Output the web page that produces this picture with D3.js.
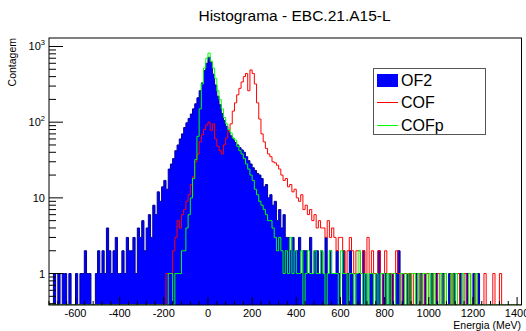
<!DOCTYPE html>
<html><head><meta charset="utf-8">
<script src="https://cdn.jsdelivr.net/npm/d3@7"></script>
<style>body{margin:0;background:#fff}svg{display:block}text{font-family:"Liberation Sans",Arial,Helvetica,sans-serif}</style>
</head><body><svg id="c" width="526" height="331"></svg>
<script>
// Histogram binning (MeV)
const binStart = -720;
const binWidth = 10;
const xDomain = [-720, 1420];
const yDomain = [0.384, 1295];
const xTickLabels = [-600,-400,-200,0,200,400,600,800,1000,1200,1400];
const yDecades = [1, 10, 100, 1000];
const seriesNames = ["OF2", "COF", "COFp"];

const of2 = [0,0,
 1,0,1,0,1,1,0,1,0,0,
 1,0,1,1,2,1,1,0,0,1,
 2,1,2,1,4,2,1,2,3,1,
 1,2,1,3,2,2,3,1,4,3,5,2,
 4,6,3,8,6,12,9,14,17,13,24,28,
 33,42,50,60,70,85,98,112,128,150,175,210,260,330,480,600,
 720,
 620,430,310,220,170,130,105,88,75,
 66,60,54,50,46,43,40,35,31,28,25,23,21,20,18,14,15,10,11,8,9,5,7,4,6,3,3,2,3,2,2,3,1,2,2,1,3,1,2,
 2,1,2,1,3,1,2,1,1,2,
 1,0,2,1,1,2,1,0,1,1,
 0,2,1,0,1,1,0,1,2,0,
 1,1,0,1,1,0,1,2,0,1,
 0,1,1,0,0,1,0,1,0,1,
 0,0,1,0,1,0,0,1,0,0,
 1,0,1,0,0,1,0,0,1,0,
 0,1,0,1,0,
 0,0,0,0,0,0,0,0,0,0,0,0,0,0,0,0,0,0];

const cof = [0,0,0,0,0,0,0,0,0,0,0,0,0,0,0,0,0,0,0,0,0,0,0,0,0,0,0,0,0,0,0,0,0,0,0,0,0,0,0,0,0,0,0,0,0,0,0,0,0,0,0,0,0,
 1,1,1,2,3,5,4,6,7,9,11,15,19,30,38,55,68,80,92,100,
 78,95,60,48,42,38,50,62,78,95,140,180,230,280,340,400,440,260,490,440,
 320,180,110,70,55,45,38,35,30,29,27,24,20,17,18,14,15,12,13,10,9,11,7,8,6,7,5,6,4,5,4,4,3,5,3,4,3,2,3,3,2,
 1,2,3,2,1,2,2,1,2,1,
 3,1,2,1,1,2,1,0,2,1,
 1,0,1,2,1,0,1,1,0,1,
 0,1,0,1,0,1,0,1,0,0,
 1,0,1,0,0,1,0,0,1,0,
 0,1,0,0,1,0,1,0,0,1,
 0,0,0,1,0,0,0,1,0,0,
 1,0,0,0,0,0,0,0,0,0];

const cofp = [0,0,0,0,0,0,0,0,0,0,0,0,0,0,0,0,0,0,0,0,0,0,0,0,0,0,0,0,0,0,0,0,0,0,0,0,0,0,0,0,0,0,0,0,0,0,0,0,0,0,0,0,0,0,
 1,1,0,1,1,1,2,2,4,6,10,18,32,65,150,320,520,700,820,
 640,520,380,260,200,150,115,95,80,72,62,58,48,42,38,33,28,24,20,17,13,11,9,8,7,6,5,5,4,3,2,3,2,
 1,2,1,3,1,2,1,1,2,0,
 1,2,1,1,2,1,1,2,1,0,
 1,2,1,1,1,0,2,1,1,0,
 1,1,0,1,2,1,0,1,0,1,
 1,0,1,0,1,1,0,1,0,1,
 1,0,0,1,1,0,1,0,1,1,
 0,1,0,1,1,0,1,0,1,0,
 0,1,0,1,0,0,1,0,1,0,
 0,1,0,0,1,0,0,1,
 0,0,0,0,0,0,0,0,0,0,0,0,0,0,0,0,0,0,0,0];

const L = 49, R = 521.5, T = 38, B = 305;
const svg = d3.select("#c");
const x = d3.scaleLinear().domain(xDomain).range([L, R]);
const y = d3.scaleLog().domain(yDomain).range([B, T]);
const yv = v => v > yDomain[0] ? Math.max(T, y(v)) : B;

svg.append("defs").append("clipPath").attr("id","clip")
  .append("rect").attr("x",L).attr("y",T).attr("width",R-L).attr("height",B-T);

function stepPoints(arr){
  const pts = [[x(binStart), B]];
  arr.forEach((v,i)=>{
    const x0 = x(binStart + i*binWidth), x1 = x(binStart + (i+1)*binWidth);
    pts.push([x0, yv(v)], [x1, yv(v)]);
  });
  pts.push([x(binStart + arr.length*binWidth), B]);
  return pts;
}
const line = d3.line();
const g = svg.append("g").attr("clip-path","url(#clip)");
const pBlue = stepPoints(of2);
g.append("path").attr("d", line(pBlue) + "Z").attr("fill","#0000ff").attr("stroke","none");
g.append("path").attr("d", line(pBlue)).attr("fill","none").attr("stroke","#000099").attr("stroke-width",1);
g.append("path").attr("d", line(stepPoints(cof))).attr("fill","none").attr("stroke","#ff0000").attr("stroke-width",1);
g.append("path").attr("d", line(stepPoints(cofp))).attr("fill","none").attr("stroke","#00ff00").attr("stroke-width",1);

// frame
svg.append("rect").attr("x",L).attr("y",T).attr("width",R-L).attr("height",B-T)
  .attr("fill","none").attr("stroke","#000").attr("stroke-width",1);

// x ticks
const minorX = d3.range(-720, 1421, 40);
svg.append("g").selectAll("line").data(minorX).join("line")
  .attr("x1",d=>x(d)).attr("x2",d=>x(d)).attr("y1",B).attr("y2",d=> d%200===0 ? B-8 : B-4)
  .attr("stroke","#000");
svg.append("g").selectAll("text").data(xTickLabels).join("text")
  .attr("x",d=>x(d)).attr("y",317).attr("text-anchor","middle")
  .attr("font-size","11px").attr("fill","#000").text(d=>d);

// y ticks
const yMinor = [];
[0.1,1,10,100,1000].forEach(dec=>{ for(let k=1;k<10;k++){ const v=dec*k; if(v>=yDomain[0]&&v<=yDomain[1]) yMinor.push(v);} });
svg.append("g").selectAll("line").data(yMinor).join("line")
  .attr("x1",L).attr("x2",d=> yDecades.includes(d) ? L+14 : L+7)
  .attr("y1",d=>y(d)).attr("y2",d=>y(d)).attr("stroke","#000");
const yl = svg.append("g").selectAll("text").data(yDecades).join("text")
  .attr("x",45).attr("y",d=>y(d)+4).attr("text-anchor","end")
  .attr("font-size","11px").attr("fill","#000");
yl.each(function(d){
  const t = d3.select(this);
  if(d===1) t.text("1");
  else if(d===10) t.text("10");
  else { t.append("tspan").text("10"); t.append("tspan").attr("dy",-5).attr("font-size","7.5px").text(String(Math.round(Math.log10(d)))); }
});

// titles
svg.append("text").attr("x",294.5).attr("y",20.5).attr("text-anchor","middle")
  .attr("font-size","15.5px").attr("fill","#000").text("Histograma - EBC.21.A15-L");
svg.append("text").attr("x",521).attr("y",329).attr("text-anchor","end")
  .attr("font-size","10.5px").attr("fill","#000").text("Energia (MeV)");
svg.append("text").attr("transform","translate(16,38) rotate(-90)").attr("text-anchor","end")
  .attr("font-size","10.5px").attr("fill","#000").text("Contagem");

// legend
const lg = svg.append("g");
lg.append("rect").attr("x",373.5).attr("y",68.5).attr("width",112).attr("height",66)
  .attr("fill","#fff").attr("stroke","#555").attr("stroke-width",1);
const rows = [80, 102, 125];
lg.append("rect").attr("x",377).attr("y",74).attr("width",21).attr("height",13).attr("fill","#0000ff");
lg.append("line").attr("x1",377).attr("x2",398).attr("y1",rows[1]+0.5).attr("y2",rows[1]+0.5).attr("stroke","#ff0000");
lg.append("line").attr("x1",377).attr("x2",398).attr("y1",rows[2]+0.5).attr("y2",rows[2]+0.5).attr("stroke","#00ff00");
lg.selectAll("text.l").data(seriesNames).join("text").attr("class","l")
  .attr("x",401).attr("y",(d,i)=>rows[i]+6).attr("font-size","16px").attr("fill","#000").text(d=>d);
</script></body></html>
